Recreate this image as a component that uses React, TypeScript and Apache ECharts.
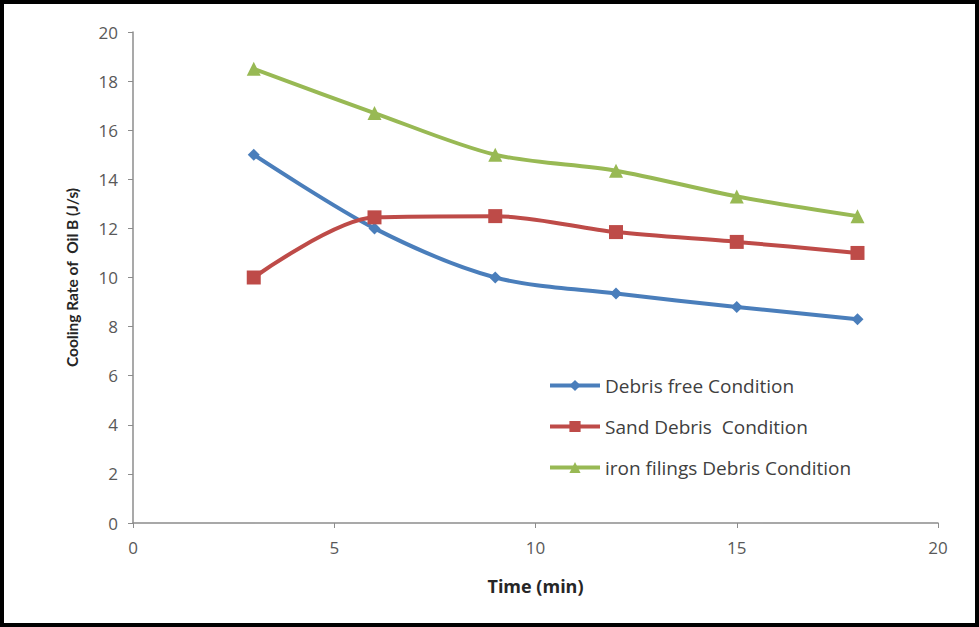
import React, { useEffect, useRef } from "react";
import * as echarts from "echarts";

const timeMin = [3, 6, 9, 12, 15, 18];
const debrisFree = [15, 12, 10, 9.35, 8.8, 8.3];
const sandDebris = [10, 12.45, 12.5, 11.85, 11.45, 11];
const ironFilings = [18.5, 16.7, 15, 14.35, 13.3, 12.5];
const seriesNames = [
  "Debris free Condition",
  "Sand Debris  Condition",
  "iron filings Debris Condition",
];

const pair = (ys: number[]) => timeMin.map((x, i) => [x, ys[i]]);

export default function App() {
  const ref = useRef<HTMLDivElement>(null);
  useEffect(() => {
    document.body.style.margin = "0";
    const chart = echarts.init(ref.current!, null, { renderer: "svg" });
    const font = "'Open Sans', sans-serif";
    chart.setOption({
      animation: false,
      backgroundColor: "#ffffff",
      textStyle: { fontFamily: font },
      grid: { left: 133, right: 41, top: 32, bottom: 104 },
      legend: {
        orient: "vertical",
        left: 543,
        top: 371,
        itemWidth: 50,
        itemHeight: 14,
        itemGap: 22,
        lineStyle: { width: 4 },
        textStyle: { fontSize: 19, color: "#404040", fontFamily: font },
        data: seriesNames,
      },
      xAxis: {
        type: "value",
        min: 0,
        max: 20,
        interval: 5,
        name: "Time (min)",
        nameLocation: "middle",
        nameGap: 54,
        nameTextStyle: {
          fontSize: 18,
          fontWeight: "bold",
          color: "#262626",
          fontFamily: font,
        },
        axisLine: { lineStyle: { color: "#8c8c8c", width: 1.5 } },
        axisTick: { show: true, length: 5, lineStyle: { color: "#8c8c8c" } },
        axisLabel: { fontSize: 17, color: "#595959", margin: 16 },
        splitLine: { show: false },
      },
      yAxis: {
        type: "value",
        min: 0,
        max: 20,
        interval: 2,
        name: "Cooling Rate of  Oil B (J/s)",
        nameLocation: "middle",
        nameGap: 53,
        nameTextStyle: {
          fontSize: 15.5,
          fontWeight: "bold",
          color: "#262626",
          fontFamily: "Lato, sans-serif",
        },
        axisLine: { show: true, lineStyle: { color: "#8c8c8c", width: 1.5 } },
        axisTick: { show: true, length: 5, lineStyle: { color: "#8c8c8c" } },
        axisLabel: { fontSize: 17, color: "#595959", margin: 15 },
        splitLine: { show: false },
      },
      series: [
        {
          name: seriesNames[0],
          type: "line",
          data: pair(debrisFree),
          smooth: 0.3,
          symbol: "diamond",
          symbolSize: 12,
          lineStyle: { width: 4, color: "#4a7ebb" },
          itemStyle: { color: "#4a7ebb" },
        },
        {
          name: seriesNames[1],
          type: "line",
          data: pair(sandDebris),
          smooth: 0.3,
          symbol: "rect",
          symbolSize: 14,
          lineStyle: { width: 4, color: "#be4b48" },
          itemStyle: { color: "#be4b48" },
        },
        {
          name: seriesNames[2],
          type: "line",
          data: pair(ironFilings),
          smooth: 0.3,
          symbol: "triangle",
          symbolSize: 14,
          lineStyle: { width: 4, color: "#98b954" },
          itemStyle: { color: "#98b954" },
        },
      ],
      graphic: [
        {
          type: "rect",
          shape: { x: 2, y: 2, width: 975, height: 623 },
          style: { fill: "none", stroke: "#000000", lineWidth: 4 },
          silent: true,
        },
      ],
    });
    return () => chart.dispose();
  }, []);
  return <div ref={ref} style={{ width: 979, height: 627 }} />;
}
